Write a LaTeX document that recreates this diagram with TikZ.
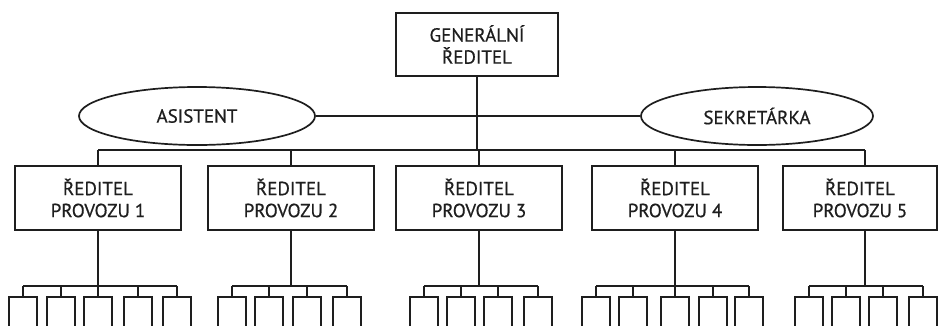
\documentclass[tikz,border=0pt]{standalone}
\usepackage{fontspec}
\setmainfont{PT Sans}
\newfontfamily\lblfont{PT Sans}[FakeBold=0.6]
\usetikzlibrary{shapes.geometric,calc}
\definecolor{ink}{HTML}{1E1E1E}
\tikzset{
  ln/.style={draw=ink,line width=1.7pt},
  boxa/.style={ln,rectangle,text=ink,align=center,font=\lblfont\fontsize{19}{22}\selectfont,inner sep=0pt},
  oval/.style={ln,ellipse,text=ink,font=\lblfont\fontsize{19}{22}\selectfont,inner sep=0pt},
  sub/.style={ln,rectangle,minimum width=28pt,minimum height=50pt,inner sep=0pt}
}
\begin{document}
\begin{tikzpicture}[x=1pt,y=-1pt]
\useasboundingbox (0,0) rectangle (938,325);
\clip (0,0) rectangle (938,325);
% top
\node[boxa,minimum width=162pt,minimum height=63pt] (gr) at (477,44.5) {GENERÁLNÍ\\ŘEDITEL};
\node[oval,minimum width=236pt,minimum height=58pt] (as) at (197,116) {ASISTENT};
\node[oval,minimum width=232pt,minimum height=58pt] (se) at (757,116) {SEKRETÁRKA};
% directors
\node[boxa,minimum width=166pt,minimum height=64pt] (d1) at (98,198) {ŘEDITEL\\PROVOZU 1};
\node[boxa,minimum width=166pt,minimum height=64pt] (d2) at (291,198) {ŘEDITEL\\PROVOZU 2};
\node[boxa,minimum width=166pt,minimum height=64pt] (d3) at (479,198) {ŘEDITEL\\PROVOZU 3};
\node[boxa,minimum width=166pt,minimum height=64pt] (d4) at (675,198) {ŘEDITEL\\PROVOZU 4};
\node[boxa,minimum width=154pt,minimum height=64pt] (d5) at (860,198) {ŘEDITEL\\PROVOZU 5};
% connectors top
\coordinate (bus) at (0,150);
\draw[ln] (gr.south) -- (gr.south |- bus);
\draw[ln] (as.east) -- (se.west);
\draw[ln] (d1.north |- bus) -- (865,150);
\foreach \d in {d1,d2,d3,d4} \draw[ln] (\d.north |- bus) -- (\d.north);
\coordinate (d5top) at (865,166);
\draw[ln] (d5top |- bus) -- (d5top);
% sub groups
\foreach \g/\m/\list in {1/98/{23,61,98,138,177},2/291/{232,269,307,347},3/479/{424,461,498,538},4/675/{596,633,675,713,749},5/865/{809,846,883,923}}{
  \coordinate (m\g) at (\m,230);
  \draw[ln] (m\g) -- (\m,286);
  \foreach \x [count=\i] in \list {
    \node[sub] (s\g-\i) at (\x,322) {};
    \draw[ln] (\x,286) -- (s\g-\i.north);
  }
}
\draw[ln] (23,286) -- (177,286);
\draw[ln] (232,286) -- (347,286);
\draw[ln] (424,286) -- (538,286);
\draw[ln] (596,286) -- (749,286);
\draw[ln] (809,286) -- (923,286);
\end{tikzpicture}
\end{document}
